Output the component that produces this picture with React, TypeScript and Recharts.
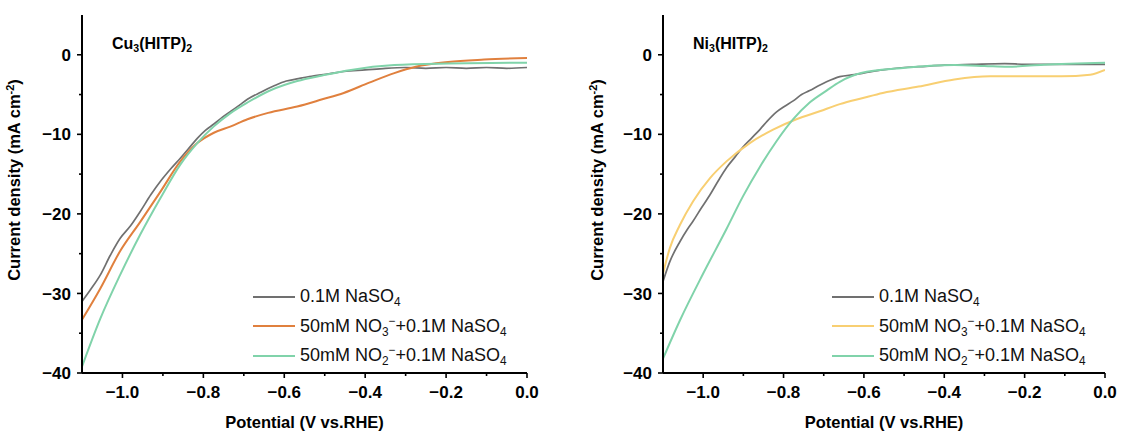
import React from 'react';
import { LineChart, Line, XAxis, YAxis, Legend, Label } from 'recharts';

const FONT = 'Arial, "Liberation Sans", Helvetica, sans-serif';

// Cu3(HITP)2 LSV curves: potential (V vs. RHE) and current density (mA cm-2)
const cuBlankV = [-1.1, -1.08, -1.055, -1.03, -1.006, -0.98, -0.956, -0.93, -0.906, -0.88, -0.857, -0.835, -0.815, -0.795, -0.774, -0.752, -0.732, -0.71, -0.691, -0.658, -0.625, -0.595, -0.565, -0.533, -0.49, -0.453, -0.4, -0.35, -0.3, -0.25, -0.2, -0.15, -0.1, -0.05, 0];
const cuBlankJ = [-31.0, -29.6, -27.7, -25.2, -23.1, -21.5, -19.7, -17.6, -15.9, -14.3, -13.0, -11.7, -10.5, -9.5, -8.7, -7.8, -7.1, -6.3, -5.6, -4.7, -3.9, -3.3, -3.0, -2.7, -2.4, -2.1, -1.9, -1.7, -1.6, -1.7, -1.6, -1.7, -1.6, -1.7, -1.6];

const cuNitrateV = [-1.1, -1.055, -1.006, -0.956, -0.906, -0.857, -0.815, -0.774, -0.732, -0.691, -0.64, -0.568, -0.506, -0.453, -0.39, -0.328, -0.275, -0.195, -0.106, 0];
const cuNitrateJ = [-33.3, -29.4, -24.7, -21.0, -17.2, -13.4, -11.1, -9.8, -9.0, -8.1, -7.3, -6.5, -5.6, -4.8, -3.5, -2.3, -1.5, -0.9, -0.6, -0.4];

const cuNitriteV = [-1.1, -1.055, -1.006, -0.956, -0.906, -0.857, -0.815, -0.774, -0.732, -0.691, -0.631, -0.568, -0.506, -0.435, -0.328, -0.195, 0];
const cuNitriteJ = [-39.2, -33.2, -27.7, -22.6, -18.0, -13.8, -11.1, -9.0, -7.3, -6.0, -4.4, -3.3, -2.6, -1.9, -1.3, -1.1, -1.0];

// Ni3(HITP)2 LSV curves
const niBlankV = [-1.1, -1.083, -1.058, -1.04, -1.025, -1.005, -0.983, -0.962, -0.942, -0.92, -0.901, -0.88, -0.859, -0.84, -0.818, -0.798, -0.776, -0.755, -0.735, -0.713, -0.693, -0.66, -0.624, -0.59, -0.553, -0.5, -0.464, -0.4, -0.331, -0.25, -0.198, -0.1, 0];
const niBlankJ = [-28.5, -26.0, -23.5, -22.0, -20.9, -19.3, -17.6, -15.8, -14.2, -12.8, -11.6, -10.5, -9.4, -8.3, -7.2, -6.5, -5.8, -5.0, -4.5, -3.9, -3.4, -2.75, -2.5, -2.2, -1.9, -1.6, -1.5, -1.3, -1.2, -1.1, -1.2, -1.2, -1.2];

const niNitrateV = [-1.1, -1.083, -1.058, -1.025, -0.983, -0.942, -0.884, -0.826, -0.768, -0.71, -0.66, -0.6, -0.553, -0.464, -0.375, -0.286, -0.198, -0.108, -0.037, 0];
const niNitrateJ = [-27.5, -24.3, -21.4, -18.4, -15.5, -13.4, -11.1, -9.4, -8.1, -7.1, -6.2, -5.4, -4.8, -4.0, -3.1, -2.7, -2.7, -2.7, -2.5, -1.9];

const niNitriteV = [-1.1, -1.058, -1.0, -0.942, -0.901, -0.859, -0.818, -0.776, -0.735, -0.693, -0.66, -0.607, -0.509, -0.375, -0.3, -0.242, -0.153, 0];
const niNitriteJ = [-38.2, -33.4, -27.5, -21.9, -17.8, -14.1, -10.9, -8.1, -6.0, -4.5, -3.4, -2.3, -1.7, -1.3, -1.4, -1.5, -1.25, -1.0];

const X_MAJOR = [-1.0, -0.8, -0.6, -0.4, -0.2, 0];
const X_MINOR = [-0.9, -0.7, -0.5, -0.3, -0.1];
const Y_MAJOR = [0, -10, -20, -30, -40];
const Y_MINOR = [-5, -15, -25, -35];

const SERIES_NAMES = ['0.1M NaSO4', '50mM NO3-+0.1M NaSO4', '50mM NO2-+0.1M NaSO4'];

const subStyle: React.CSSProperties = { fontSize: '0.66em', verticalAlign: '-0.3em', lineHeight: 0 };
const supStyle: React.CSSProperties = { fontSize: '0.66em', verticalAlign: '0.55em', lineHeight: 0 };

const LEGEND_LABELS: Record<string, React.ReactNode> = {
  '0.1M NaSO4': <>0.1M NaSO<sub style={subStyle}>4</sub></>,
  '50mM NO3-+0.1M NaSO4': <>50mM NO<sub style={subStyle}>3</sub><sup style={supStyle}>−</sup>+0.1M NaSO<sub style={subStyle}>4</sub></>,
  '50mM NO2-+0.1M NaSO4': <>50mM NO<sub style={subStyle}>2</sub><sup style={supStyle}>−</sup>+0.1M NaSO<sub style={subStyle}>4</sub></>,
};

const zip = (v: number[], j: number[]) => v.map((x, i) => ({ v: x, j: j[i] }));

const TICK_LEN = 5;
const MINOR_LEN = 3;
const TICK_GAP = 6;
const TICK_FONT = 17;
const TITLE_FONT = 16.5;

const fmtX = (v: number) => v.toFixed(1).replace('-', '−');
const fmtY = (v: number) => (v === 0 ? '0' : '−' + Math.abs(v));

function XTick(props: any) {
  const { x, y, payload } = props;
  const major = X_MAJOR.includes(payload.value);
  const axisY = y - TICK_LEN - TICK_GAP;
  return (
    <g>
      <line x1={x} x2={x} y1={axisY} y2={axisY + (major ? TICK_LEN : MINOR_LEN)} stroke="#000" strokeWidth={1.6} />
      {major && (
        <text x={x} y={axisY + 25} textAnchor="middle" fontFamily={FONT} fontWeight="bold" fontSize={TICK_FONT} fill="#000">
          {fmtX(payload.value)}
        </text>
      )}
    </g>
  );
}

function YTick(props: any) {
  const { x, y, payload } = props;
  const major = Y_MAJOR.includes(payload.value);
  const axisX = x + TICK_LEN + TICK_GAP;
  return (
    <g>
      <line x1={axisX - (major ? TICK_LEN : MINOR_LEN)} x2={axisX} y1={y} y2={y} stroke="#000" strokeWidth={1.6} />
      {major && (
        <text x={axisX - 11} y={y} dy="0.36em" textAnchor="end" fontFamily={FONT} fontWeight="bold" fontSize={TICK_FONT} fill="#000">
          {fmtY(payload.value)}
        </text>
      )}
    </g>
  );
}

// legend rows keep the series order rather than the library's alphabetical sort
function LegendBox({ payload }: any) {
  const items = [...(payload || [])].sort(
    (a: any, b: any) => SERIES_NAMES.indexOf(a.value) - SERIES_NAMES.indexOf(b.value)
  );
  return (
    <div style={{ fontFamily: FONT, fontSize: 18, color: '#111' }}>
      {items.map((item: any) => (
        <div key={item.value} style={{ display: 'flex', alignItems: 'center', height: 29.5 }}>
          <span style={{ display: 'inline-block', width: 42, height: 2, background: item.color, marginRight: 5 }} />
          <span style={{ whiteSpace: 'nowrap' }}>{LEGEND_LABELS[item.value]}</span>
        </div>
      ))}
    </div>
  );
}

type Series = { name: string; color: string; width: number; data: { v: number; j: number }[] };

function Panel({ title, series, width, marginLeft, marginRight, yLabelX, legendLeft }: {
  title: React.ReactNode; series: Series[]; width: number; marginLeft: number; marginRight: number; yLabelX: number; legendLeft: number;
}) {
  return (
    <div style={{ position: 'relative', width, height: 435 }}>
      <LineChart width={width} height={435} margin={{ top: 15, right: marginRight, bottom: 22, left: marginLeft }}>
        <XAxis
          dataKey="v" type="number" domain={[-1.1, 0]} allowDataOverflow
          ticks={[...X_MAJOR, ...X_MINOR]} interval={0} height={40}
          tickSize={TICK_LEN} tickMargin={TICK_GAP} tickLine={false} tick={<XTick />}
          axisLine={{ stroke: '#000', strokeWidth: 2 }}
        >
          <Label
            content={({ viewBox }: any) => (
              <text x={viewBox.x + viewBox.width / 2} y={428} textAnchor="middle" fontFamily={FONT} fontWeight="bold" fontSize={TITLE_FONT} fill="#000">
                Potential (V vs.RHE)
              </text>
            )}
          />
        </XAxis>
        <XAxis xAxisId="top" orientation="top" dataKey="v" type="number" domain={[-1.1, 0]} height={0} tick={false} tickLine={false} axisLine={{ stroke: '#000', strokeWidth: 2 }} />
        <YAxis
          type="number" domain={[-40, 5]} allowDataOverflow
          ticks={[...Y_MAJOR, ...Y_MINOR]} interval={0} width={60}
          tickSize={TICK_LEN} tickMargin={TICK_GAP} tickLine={false} tick={<YTick />}
          axisLine={{ stroke: '#000', strokeWidth: 2 }}
        >
          <Label
            content={() => (
              <text transform={`translate(${yLabelX}, 180) rotate(-90)`} textAnchor="middle" fontFamily={FONT} fontWeight="bold" fontSize={TITLE_FONT} fill="#000">
                Current density (mA cm<tspan dy={-6} fontSize={11}>-2</tspan><tspan dy={6}>)</tspan>
              </text>
            )}
          />
        </YAxis>
        <YAxis yAxisId="right" orientation="right" type="number" domain={[-40, 5]} width={0} tick={false} tickLine={false} axisLine={{ stroke: '#000', strokeWidth: 2 }} />
        <Legend
          layout="vertical" align="center" verticalAlign="middle"
          content={<LegendBox />}
          wrapperStyle={{ position: 'absolute', left: legendLeft, top: 282, width: 'auto' }}
        />
        {series.map((s) => (
          <Line
            key={s.name} name={s.name} data={s.data} dataKey="j" type="monotone"
            stroke={s.color} strokeWidth={s.width} dot={false} activeDot={false} isAnimationActive={false}
          />
        ))}
      </LineChart>
      <div style={{ position: 'absolute', left: marginLeft + 60 + 30, top: 35, fontFamily: FONT, fontWeight: 'bold', fontSize: 16, color: '#000' }}>
        {title}
      </div>
    </div>
  );
}

const GRAY = '#707070';
const ORANGE = '#e0803e';
const GREEN = '#80d3aa';
const YELLOW = '#f8cf72';

export default function App() {
  const cuSeries: Series[] = [
    { name: SERIES_NAMES[0], color: GRAY, width: 1.7, data: zip(cuBlankV, cuBlankJ) },
    { name: SERIES_NAMES[1], color: ORANGE, width: 2, data: zip(cuNitrateV, cuNitrateJ) },
    { name: SERIES_NAMES[2], color: GREEN, width: 2, data: zip(cuNitriteV, cuNitriteJ) },
  ];
  const niSeries: Series[] = [
    { name: SERIES_NAMES[0], color: GRAY, width: 1.7, data: zip(niBlankV, niBlankJ) },
    { name: SERIES_NAMES[1], color: YELLOW, width: 2, data: zip(niNitrateV, niNitrateJ) },
    { name: SERIES_NAMES[2], color: GREEN, width: 2, data: zip(niNitriteV, niNitriteJ) },
  ];
  return (
    <div style={{ position: 'absolute', left: 0, top: 0, width: 1122, height: 435, background: '#fff', display: 'flex' }}>
      <Panel
        title={<>Cu<sub style={subStyle}>3</sub>(HITP)<sub style={subStyle}>2</sub></>}
        series={cuSeries} width={560} marginLeft={22} marginRight={33} yLabelX={20} legendLeft={253}
      />
      <Panel
        title={<>Ni<sub style={subStyle}>3</sub>(HITP)<sub style={subStyle}>2</sub></>}
        series={niSeries} width={562} marginLeft={43} marginRight={17} yLabelX={43} legendLeft={272}
      />
    </div>
  );
}
